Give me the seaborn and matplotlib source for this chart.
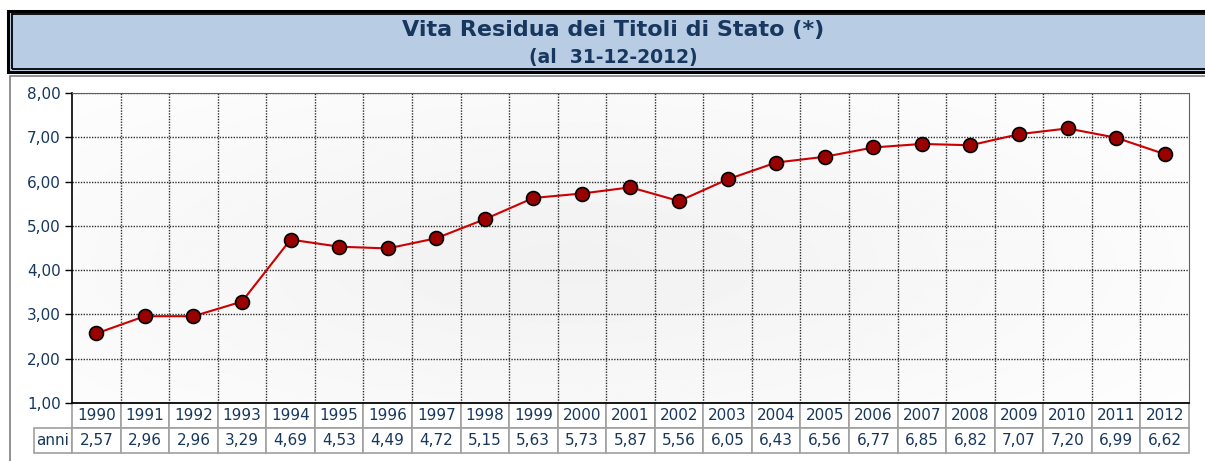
import numpy as np
import pandas as pd
import seaborn as sns
import matplotlib.pyplot as plt
from matplotlib.patches import Rectangle

# dati
anni = [1990, 1991, 1992, 1993, 1994, 1995, 1996, 1997, 1998, 1999, 2000, 2001,
        2002, 2003, 2004, 2005, 2006, 2007, 2008, 2009, 2010, 2011, 2012]
vita_residua = [2.57, 2.96, 2.96, 3.29, 4.69, 4.53, 4.49, 4.72, 5.15, 5.63, 5.73, 5.87,
                5.56, 6.05, 6.43, 6.56, 6.77, 6.85, 6.82, 7.07, 7.20, 6.99, 6.62]
titolo = "Vita Residua dei Titoli di Stato (*)"
sottotitolo = "(al  31-12-2012)"
riga_label = "anni"

df = pd.DataFrame({'anno': anni, 'vita': vita_residua})

NAVY = '#17375E'
W, H = 1205, 461

sns.set_style('white')
plt.rcParams['font.family'] = ['DejaVu Sans']

fig = plt.figure(figsize=(W / 100, H / 100), dpi=100)

def fx(px):
    return px / W

def fy(py):
    return 1 - py / H

# cornice del grafico
fig.patches.append(Rectangle((fx(10), fy(470)), fx(1300), fy(76) - fy(470),
                             transform=fig.transFigure, fill=False,
                             edgecolor='#7f7f7f', lw=1.2))

# riquadro titolo (doppio bordo)
fig.patches.append(Rectangle((fx(8), fy(72)), fx(1300), fy(11) - fy(72),
                             transform=fig.transFigure, facecolor='#B8CCE4',
                             edgecolor='black', lw=2.2))
fig.patches.append(Rectangle((fx(11.5), fy(69)), fx(1300), fy(14) - fy(69),
                             transform=fig.transFigure, fill=False,
                             edgecolor='black', lw=1.3))
fig.text(fx(613), fy(30), titolo, ha='center', va='center', fontsize=16,
         fontweight='bold', color=NAVY)
fig.text(fx(613), fy(57), sottotitolo, ha='center', va='center', fontsize=13.5,
         fontweight='bold', color=NAVY)

ax = fig.add_axes([fx(72), fy(403), fx(1189) - fx(72), fy(93) - fy(403)])

x0, x1 = anni[0] - 0.5, anni[-1] + 0.5

# sfondo sfumato
gx, gy = np.meshgrid(np.linspace(0, 1, 300), np.linspace(0, 1, 200))
r = np.sqrt(((gx - 0.45) / 0.75) ** 2 + ((gy - 0.45) / 0.9) ** 2)
bg = 0.945 + 0.055 * np.clip(r, 0, 1)
ax.imshow(bg, extent=[x0, x1, 1, 8], aspect='auto', cmap='gray', vmin=0, vmax=1,
          origin='lower', zorder=0)

sns.lineplot(data=df, x='anno', y='vita', ax=ax, color='#CC0000', lw=1.5,
             marker='o', markersize=10, markerfacecolor='#990000',
             markeredgecolor='black', markeredgewidth=1.2, zorder=5)

ax.set_xlim(x0, x1)
ax.set_ylim(1, 8)
ax.set_yticks(range(1, 9))
ax.set_yticklabels([f"{v:.2f}".replace('.', ',') for v in range(1, 9)],
                   color=NAVY, fontsize=11)
ax.set_xticks([a + 0.5 for a in anni[:-1]])
ax.set_xticklabels([])
ax.tick_params(axis='x', length=0)
ax.tick_params(axis='y', length=5, width=1, color='black', direction='out', pad=3,
               left=True)
ax.grid(True, linestyle=(0, (1, 1)), color='#303030', lw=1)
ax.set_xlabel('')
ax.set_ylabel('')
for s in ['top', 'right']:
    ax.spines[s].set_linestyle((0, (1, 1)))
    ax.spines[s].set_color('#606060')
for s in ['left', 'bottom']:
    ax.spines[s].set_color('black')
    ax.spines[s].set_linewidth(1.2)
ax.spines['bottom'].set_zorder(6)

# tabella dati
valori_txt = [f"{v:.2f}".replace('.', ',') for v in vita_residua]
cell_text = [[''] + [str(a) for a in anni], [riga_label] + valori_txt]
plot_w = 1189 - 72
lab_w = 38 / plot_w
tab_h = 50 / 310
tab = ax.table(cellText=cell_text, cellLoc='center',
               colWidths=[lab_w] + [1 / len(anni)] * len(anni),
               bbox=[-lab_w, -tab_h, 1 + lab_w, tab_h])
tab.auto_set_font_size(False)
tab.set_fontsize(11)
for (r_, c_), cell in tab.get_celld().items():
    cell.set_edgecolor('#A0A0A0')
    cell.set_linewidth(1.2)
    cell.set_facecolor('white')
    cell.get_text().set_color(NAVY)
    if r_ == 0 and c_ == 0:
        cell.visible_edges = ''
    if c_ == 0 and r_ == 1:
        cell._loc = 'left'
        cell.PAD = 0.08

fig.savefig('out.png', dpi=100)
